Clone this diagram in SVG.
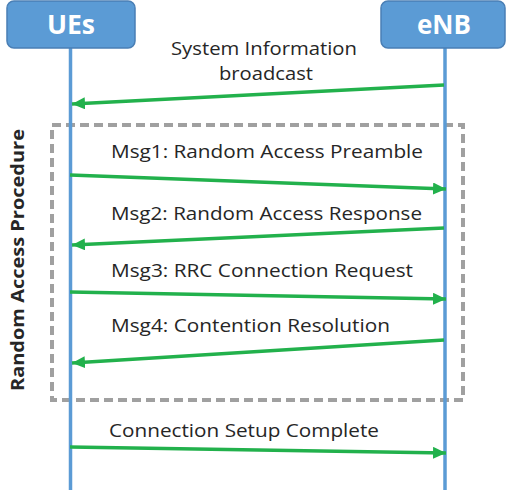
<svg xmlns="http://www.w3.org/2000/svg" width="506" height="490" viewBox="0 0 506 490">
<style>
.box{fill:#5B9BD5;stroke:#4A7FB5;stroke-width:1.5}
.hdr{font-family:"Open Sans","Liberation Sans",sans-serif;font-weight:bold;font-size:26px;fill:#fff;text-anchor:middle}
.life{stroke:#5B9BD5;stroke-width:3.5;fill:none}
.msg{stroke:#22B14C;stroke-width:3.5;fill:none;marker-end:url(#ah)}
.lbl{font-family:"Open Sans","Liberation Sans",sans-serif;font-size:18px;fill:#262626}
.side{font-family:"Open Sans","Liberation Sans",sans-serif;font-weight:bold;font-size:18px;fill:#262626;text-anchor:middle}
.frame{fill:none;stroke:#A0A0A0;stroke-width:4;stroke-dasharray:9 5}
</style>
<defs>
<marker id="ah" markerUnits="userSpaceOnUse" markerWidth="14" markerHeight="12" refX="13" refY="6" orient="auto">
<path d="M0,0 L13,6 L0,12 Z" fill="#22B14C"/>
</marker>
</defs>
<rect class="frame" x="52" y="125" width="411" height="275"/>
<text class="side" transform="translate(24,260) rotate(-90)" textLength="262" lengthAdjust="spacingAndGlyphs">Random Access Procedure</text>
<g id="UEs">
<line class="life" x1="70.5" y1="47" x2="70.5" y2="490"/>
<rect class="box" x="7" y="1" width="128" height="47" rx="7"/>
<text class="hdr" x="71" y="34" textLength="48" lengthAdjust="spacingAndGlyphs">UEs</text>
</g>
<g id="eNB">
<line class="life" x1="445" y1="47" x2="445" y2="490"/>
<rect class="box" x="381" y="1" width="124" height="47" rx="7"/>
<text class="hdr" x="444" y="34" textLength="54" lengthAdjust="spacingAndGlyphs">eNB</text>
</g>
<g id="connectors">
<line class="msg" x1="444" y1="85" x2="72" y2="104"/>
<line class="msg" x1="70" y1="175" x2="446" y2="189"/>
<line class="msg" x1="444" y1="228" x2="72" y2="245"/>
<line class="msg" x1="70" y1="292" x2="446" y2="299"/>
<line class="msg" x1="444" y1="340" x2="72" y2="363"/>
<line class="msg" x1="70" y1="447" x2="446" y2="453"/>
</g>
<g id="labels">
<text class="lbl" x="171" y="55" textLength="186" lengthAdjust="spacingAndGlyphs">System Information</text>
<text class="lbl" x="219" y="80" textLength="94" lengthAdjust="spacingAndGlyphs">broadcast</text>
<text class="lbl" x="111" y="158" textLength="312" lengthAdjust="spacingAndGlyphs">Msg1: Random Access Preamble</text>
<text class="lbl" x="111" y="220" textLength="311" lengthAdjust="spacingAndGlyphs">Msg2: Random Access Response</text>
<text class="lbl" x="111" y="277" textLength="302" lengthAdjust="spacingAndGlyphs">Msg3: RRC Connection Request</text>
<text class="lbl" x="111" y="332" textLength="279" lengthAdjust="spacingAndGlyphs">Msg4: Contention Resolution</text>
<text class="lbl" x="109" y="437" textLength="270" lengthAdjust="spacingAndGlyphs">Connection Setup Complete</text>
</g>
</svg>
